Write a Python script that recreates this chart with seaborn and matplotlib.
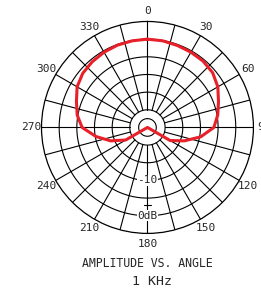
import numpy as np
import pandas as pd
import seaborn as sns
from matplotlib import pyplot as plt

sns.set_style('white')
plt.rcParams['font.family'] = ['DejaVu Sans Mono']

# polar response, angle in degrees, level in dB (center of plot = -25 dB)
angles = [0, 10, 20, 30, 40, 50, 60, 70, 80, 90, 100, 110, 120, 125,
          150, 180, 210, 235, 240, 250, 260, 270, 280, 290, 300, 310,
          320, 330, 340, 350, 360]
level = [0.0, -0.1, -0.3, -0.4, -0.5, -0.9, -2.0, -3.6, -4.8, -6.2, -9.7,
         -13.9, -17.6, -25, -25, -25, -25, -25, -17.9, -13.9, -10.2, -6.5,
         -4.8, -3.6, -2.0, -1.1, -0.7, -0.4, -0.2, -0.1, 0.0]

ring_levels = [-22.5, -20, -15, -10, -5, 0]
spoke_angles = list(range(0, 360, 15))
label_angles = list(range(0, 360, 30))
label_texts = [str(a) for a in label_angles]
ring_labels = {-10: '-10', 0: '0dB'}

df = pd.DataFrame({'theta': np.deg2rad(angles), 'db': level})

fig = plt.figure(figsize=(2.61, 2.89), dpi=100)
ax = fig.add_axes([0.159, 0.192, 0.812, 0.734], projection='polar')
ax.set_theta_zero_location('N')
ax.set_theta_direction(-1)
ax.set_ylim(-25, 5)
ax.grid(False)
ax.set_yticks([])
ax.spines['polar'].set_linewidth(0.9)
ax.spines['polar'].set_color('black')

# rings
full = np.linspace(0, 2 * np.pi, 361)
for lv in ring_levels:
    ax.plot(full, np.full_like(full, lv), color='black', lw=0.8)

# spokes
for a in spoke_angles:
    ax.plot([np.deg2rad(a)] * 2, [-20, 5], color='black', lw=0.8)

# small tick on the 180 line
ax.plot(np.deg2rad([177.5, 182.5]), [-3, -3], color='black', lw=0.8)

ax.set_xticks(np.deg2rad(label_angles))
ax.set_xticklabels(label_texts, fontsize=8)
ax.tick_params(axis='x', pad=0.5, length=0)

for lv, txt in ring_labels.items():
    ax.text(np.pi, lv, txt, ha='center', va='center', fontsize=8,
            bbox=dict(facecolor='white', edgecolor='none', pad=0.5))

sns.lineplot(data=df, x='theta', y='db', ax=ax, sort=False,
             color='#e8202a', lw=2.2, estimator=None)
ax.set_xlabel('')
ax.set_ylabel('')

fig.text(0.565, 0.089, 'AMPLITUDE VS. ANGLE', ha='center', va='center', fontsize=8.3)
fig.text(0.583, 0.027, '1 KHz', ha='center', va='center', fontsize=9.5)

plt.savefig('out.png', dpi=100)
